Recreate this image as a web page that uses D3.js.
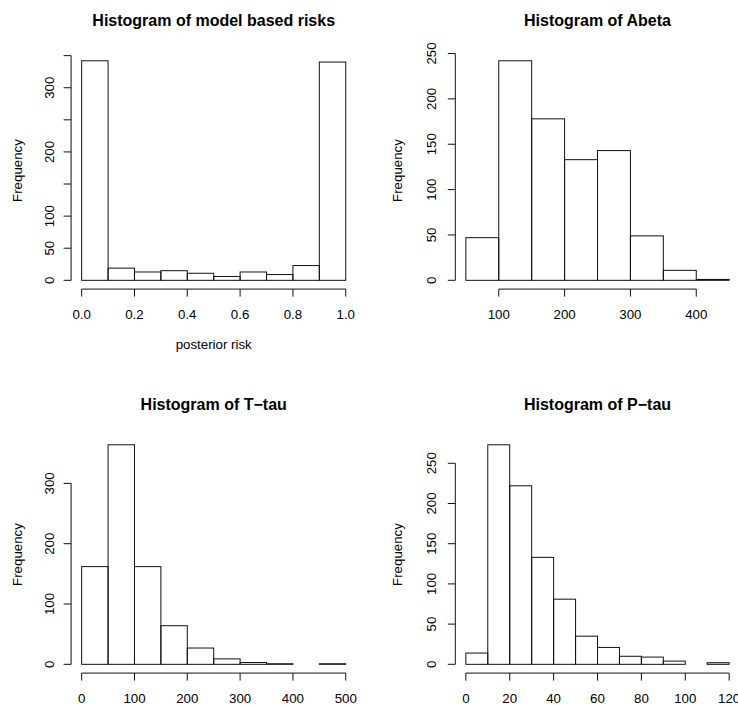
<!DOCTYPE html>
<html>
<head>
<meta charset="utf-8">
<script src="https://cdn.jsdelivr.net/npm/d3@7"></script>
<style>
  body { margin: 0; background: #fff; }
  svg { display: block; }
</style>
</head>
<body>
<div id="chart"></div>
<script>
// histogram data
const riskEdges = [0, 0.1, 0.2, 0.3, 0.4, 0.5, 0.6, 0.7, 0.8, 0.9, 1.0];
const riskCounts = [342, 19, 13, 15, 11, 6, 13, 9, 23, 340];
const riskXTicks = [0, 0.2, 0.4, 0.6, 0.8, 1.0];
const riskXLabels = ["0.0", "0.2", "0.4", "0.6", "0.8", "1.0"];
const riskYTicks = [0, 50, 100, 150, 200, 250, 300, 350];
const riskYLabels = ["0", "50", "100", "", "200", "", "300", ""];

const abetaEdges = [50, 100, 150, 200, 250, 300, 350, 400, 450];
const abetaCounts = [47, 242, 178, 133, 143, 49, 11, 1];
const abetaXTicks = [100, 200, 300, 400];
const abetaYTicks = [0, 50, 100, 150, 200, 250];

const ttauEdges = [0, 50, 100, 150, 200, 250, 300, 350, 400, 450, 500];
const ttauCounts = [162, 364, 162, 64, 27, 9, 3, 1, 0, 1];
const ttauXTicks = [0, 100, 200, 300, 400, 500];
const ttauYTicks = [0, 100, 200, 300];

const ptauEdges = [0, 10, 20, 30, 40, 50, 60, 70, 80, 90, 100, 110, 120];
const ptauCounts = [14, 273, 222, 133, 81, 35, 21, 10, 9, 4, 0, 2];
const ptauXTicks = [0, 20, 40, 60, 80, 100, 120];
const ptauYTicks = [0, 50, 100, 150, 200, 250];

const titles = ["Histogram of model based risks", "Histogram of Abeta",
                "Histogram of T\u2212tau", "Histogram of P\u2212tau"];

const W = 738, H = 705;
const FONT = '"Liberation Sans", Arial, Helvetica, sans-serif';

const svg = d3.select('#chart').append('svg')
    .attr('width', W)
    .attr('height', H)
    .style('font-family', FONT);

// plot regions (R's mfrow 2x2 layout)
const cols = [{x0: 71.1, x1: 356.3, yTickOff: 16.7, yLabOff: 49},
              {x0: 455.3, x1: 739.7, yTickOff: 19, yLabOff: 53}];
const rows = [{y0: 52, y1: 289.1}, {y0: 436, y1: 673.1}];

const panels = [
    {edges: riskEdges, counts: riskCounts, xt: riskXTicks, xl: riskXLabels, yt: riskYTicks, yl: riskYLabels, xlab: "posterior risk", c: 0, r: 0},
    {edges: abetaEdges, counts: abetaCounts, xt: abetaXTicks, yt: abetaYTicks, c: 1, r: 0},
    {edges: ttauEdges, counts: ttauCounts, xt: ttauXTicks, yt: ttauYTicks, c: 0, r: 1},
    {edges: ptauEdges, counts: ptauCounts, xt: ptauXTicks, yt: ptauYTicks, c: 1, r: 1}
];

panels.forEach((p, i) => {
    const col = cols[p.c], row = rows[p.r];
    const lo = p.edges[0], hi = p.edges[p.edges.length - 1];
    const xpad = (hi - lo) * 0.04;
    const ymax = d3.max(p.counts);
    const x = d3.scaleLinear().domain([lo - xpad, hi + xpad]).range([col.x0, col.x1]);
    const y = d3.scaleLinear().domain([-ymax * 0.04, ymax * 1.04]).range([row.y1, row.y0]);

    const g = svg.append('g');

    // bars
    g.selectAll('rect')
        .data(p.counts)
        .enter().append('rect')
        .attr('x', (d, j) => x(p.edges[j]))
        .attr('width', (d, j) => x(p.edges[j + 1]) - x(p.edges[j]))
        .attr('y', d => y(d))
        .attr('height', d => y(0) - y(d))
        .attr('fill', 'none')
        .attr('stroke', '#111')
        .attr('stroke-width', 1);

    const tick = 7.5;

    // x axis
    const xa = g.append('g').attr('stroke', '#111').attr('stroke-width', 1);
    xa.append('line')
        .attr('x1', x(p.xt[0])).attr('x2', x(p.xt[p.xt.length - 1]))
        .attr('y1', row.y1).attr('y2', row.y1);
    xa.selectAll('line.t').data(p.xt).enter().append('line')
        .attr('class', 't')
        .attr('x1', d => x(d)).attr('x2', d => x(d))
        .attr('y1', row.y1).attr('y2', row.y1 + tick);
    g.selectAll('text.xt').data(p.xt).enter().append('text')
        .attr('class', 'xt')
        .attr('x', d => x(d))
        .attr('y', row.y1 + 29.5)
        .attr('text-anchor', 'middle')
        .attr('font-size', 13.3)
        .text((d, j) => p.xl ? p.xl[j] : d);

    // y axis
    const ya = g.append('g').attr('stroke', '#111').attr('stroke-width', 1);
    ya.append('line')
        .attr('x1', col.x0).attr('x2', col.x0)
        .attr('y1', y(p.yt[0])).attr('y2', y(p.yt[p.yt.length - 1]));
    ya.selectAll('line.t').data(p.yt).enter().append('line')
        .attr('class', 't')
        .attr('x1', col.x0 - tick).attr('x2', col.x0)
        .attr('y1', d => y(d)).attr('y2', d => y(d));
    g.selectAll('text.yt').data(p.yt).enter().append('text')
        .attr('class', 'yt')
        .attr('transform', d => `translate(${col.x0 - col.yTickOff},${y(d)}) rotate(-90)`)
        .attr('text-anchor', 'middle')
        .attr('font-size', 13.3)
        .text((d, j) => p.yl ? p.yl[j] : d);

    // axis titles
    g.append('text')
        .attr('transform', `translate(${col.x0 - col.yLabOff},${(row.y0 + row.y1) / 2}) rotate(-90)`)
        .attr('text-anchor', 'middle')
        .attr('font-size', 13.3)
        .text('Frequency');
    if (p.xlab) {
        g.append('text')
            .attr('x', (col.x0 + col.x1) / 2)
            .attr('y', row.y1 + 60)
            .attr('text-anchor', 'middle')
            .attr('font-size', 13.3)
            .text(p.xlab);
    }

    // main title
    g.append('text')
        .attr('x', (col.x0 + col.x1) / 2)
        .attr('y', row.y0 - 26.5)
        .attr('text-anchor', 'middle')
        .attr('font-size', 16)
        .attr('font-weight', 'bold')
        .text(titles[i]);
});
</script>
</body>
</html>
